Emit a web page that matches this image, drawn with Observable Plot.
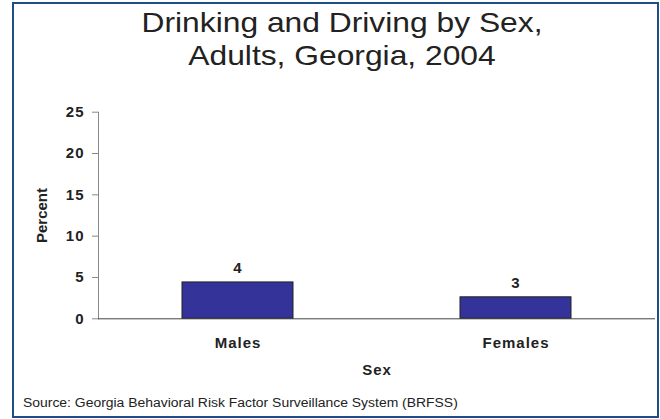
<!DOCTYPE html>
<html>
<head>
<meta charset="utf-8">
<script src="https://cdn.jsdelivr.net/npm/d3@7"></script>
<script src="https://cdn.jsdelivr.net/npm/@observablehq/plot@0.6"></script>
<style>
  body { margin: 0; background: #fff; }
  #wrap { position: relative; width: 660px; height: 419px; overflow: hidden; font-family: "Liberation Sans", Arial, sans-serif; color: #222; }
  #border { position: absolute; left: 11.5px; top: 1.5px; width: 643px; height: 412px; border: 2.5px solid #1c4e8a; pointer-events: none; }
  #title { box-sizing: border-box; height: 85px; padding-top: 6px; margin-left: 24px; width: 636px; text-align: center; font-size: 28px; line-height: 33px; transform: scaleX(1.135); transform-origin: 318px 0; }
  #chart { height: 310px; }
  #chart svg { display: block; }
  #chart svg text { letter-spacing: 1px; }
  #chart svg g[aria-label="y-axis label"] text { letter-spacing: 0; }
  #caption { height: 24px; box-sizing: border-box; padding-left: 23px; font-size: 12px; line-height: 16px; transform: scaleX(1.16); transform-origin: 23px 0; white-space: nowrap; }
</style>
</head>
<body>
<div id="wrap">
  <div id="title">Drinking and Driving by Sex,<br>Adults, Georgia, 2004</div>
  <div id="chart"></div>
  <div id="caption">Source: Georgia Behavioral Risk Factor Surveillance System (BRFSS)</div>
  <div id="border"></div>
</div>
<script>
const sexes = ["Males", "Females"];
const percents = [4.4, 2.6];
const valueLabels = ["4", "3"];
const yTicks = [0, 5, 10, 15, 20, 25];

const data = sexes.map((s, i) => ({sex: s, pct: percents[i], label: valueLabels[i]}));

const chart = Plot.plot({
  width: 660,
  height: 310,
  marginLeft: 98,
  marginRight: 5,
  marginTop: 26.7,
  marginBottom: 76.7,
  style: {fontFamily: '"Liberation Sans", Arial, sans-serif', color: "#222", background: "transparent"},
  x: {domain: sexes, paddingInner: 0.6, paddingOuter: 0.3, label: "Sex"},
  y: {domain: [0, 25], label: "Percent", labelArrow: "none"},
  marks: [
    Plot.frame({anchor: "left", stroke: "#888"}),
    Plot.barY(data, {x: "sex", y: "pct", fill: "#333399", stroke: "#222", strokeWidth: 1}),
    Plot.ruleY([0], {stroke: "#444"}),
    Plot.text(data, {x: "sex", y: "pct", text: "label", lineAnchor: "bottom", dy: -9, fontSize: 15, fontWeight: "bold", fill: "#222"}),
    Plot.axisY({ticks: yTicks, tickSize: 6, tickPadding: 8, stroke: "#888", fill: "#222", fontSize: 15, fontWeight: "bold", label: "Percent", labelArrow: "none", labelAnchor: "center", labelOffset: 62}),
    Plot.axisX({tickSize: 0, tickPadding: 19, fill: "#222", fontSize: 15, fontWeight: "bold", label: "Sex", labelAnchor: "center", labelOffset: 56})
  ]
});
document.getElementById("chart").appendChild(chart);
</script>
</body>
</html>
